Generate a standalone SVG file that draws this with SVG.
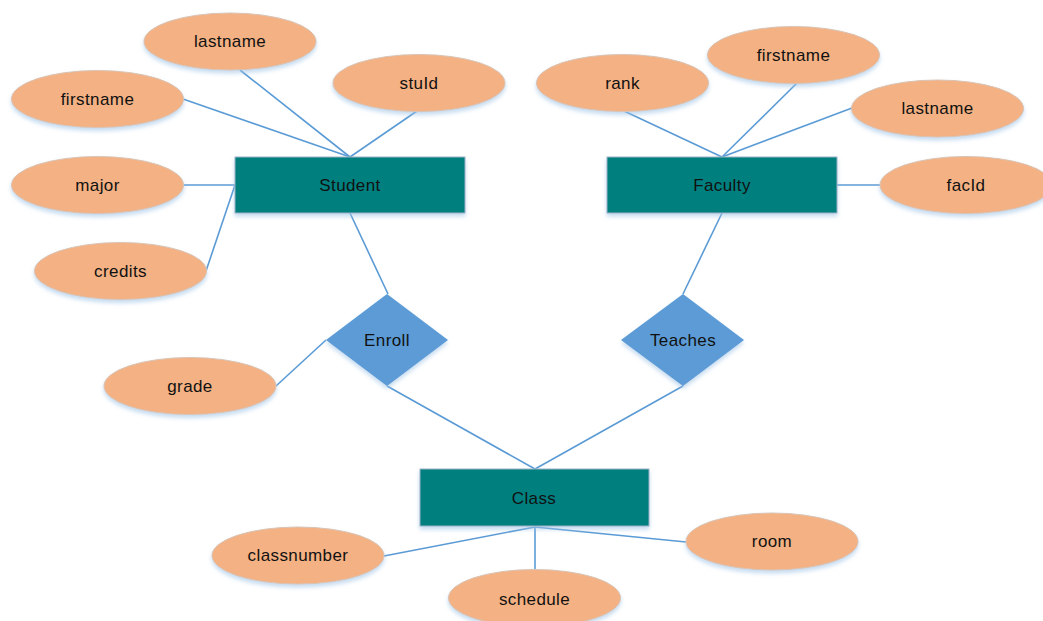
<svg xmlns="http://www.w3.org/2000/svg" width="1043" height="621" viewBox="0 0 1043 621">
<style>
.attr{fill:#F4B183;stroke:#d9c3b3;stroke-width:1;filter:url(#sh)}
.ent{fill:#007F7F;stroke:#9fb3c8;stroke-width:1;filter:url(#sh)}
.rel{fill:#5B9BD5;filter:url(#sh)}
.lbl{font-family:"Liberation Sans",Arial,sans-serif;font-size:17px;fill:#111;text-anchor:middle;dominant-baseline:central;letter-spacing:0.4px}
#connectors line{stroke:#5B9BD5;stroke-width:1.6}
</style>
<defs>
<filter id="sh" x="-20%" y="-20%" width="140%" height="150%">
<feDropShadow dx="0" dy="3" stdDeviation="2" flood-color="#9dc3e6" flood-opacity="0.6"/>
</filter>
</defs>
<rect width="1043" height="621" fill="#fff"/>
<g id="connectors">
<line x1="240" y1="70" x2="350" y2="157"/>
<line x1="183" y1="99" x2="350" y2="157"/>
<line x1="417" y1="111" x2="350" y2="157"/>
<line x1="183" y1="185" x2="235" y2="185"/>
<line x1="206" y1="271" x2="235" y2="185"/>
<line x1="350" y1="213" x2="388" y2="294"/>
<line x1="624" y1="111" x2="722" y2="157"/>
<line x1="797" y1="83" x2="722" y2="157"/>
<line x1="852" y1="108" x2="722" y2="157"/>
<line x1="837" y1="185" x2="880" y2="185"/>
<line x1="722" y1="213" x2="683" y2="294"/>
<line x1="276" y1="386" x2="326" y2="340"/>
<line x1="387" y1="386" x2="535" y2="469"/>
<line x1="683" y1="386" x2="535" y2="469"/>
<line x1="535" y1="527" x2="384" y2="556"/>
<line x1="535" y1="527" x2="535" y2="569"/>
<line x1="535" y1="527" x2="686" y2="542"/>
</g>
<g id="student"><rect class="ent" x="235" y="157" width="230" height="56"/><text class="lbl" x="350" y="185">Student</text></g>
<g id="faculty"><rect class="ent" x="607" y="157" width="230" height="56"/><text class="lbl" x="722" y="185">Faculty</text></g>
<g id="class"><rect class="ent" x="420" y="469" width="229" height="57"/><text class="lbl" x="534" y="498">Class</text></g>
<g id="enroll"><polygon class="rel" points="387,294 448,340 387,386 326,340"/><text class="lbl" x="387" y="340">Enroll</text></g>
<g id="teaches"><polygon class="rel" points="683,294 744,340 683,386 621,340"/><text class="lbl" x="683" y="340">Teaches</text></g>
<g id="s_lastname"><ellipse class="attr" cx="230" cy="41.5" rx="86" ry="28.5"/><text class="lbl" x="230" y="41.5">lastname</text></g>
<g id="s_stuid"><ellipse class="attr" cx="419" cy="83" rx="86" ry="28.5"/><text class="lbl" x="419" y="83">stuId</text></g>
<g id="s_firstname"><ellipse class="attr" cx="97.5" cy="99" rx="86" ry="28.5"/><text class="lbl" x="97.5" y="99">firstname</text></g>
<g id="s_major"><ellipse class="attr" cx="97.5" cy="185" rx="86" ry="28.5"/><text class="lbl" x="97.5" y="185">major</text></g>
<g id="s_credits"><ellipse class="attr" cx="120.5" cy="271" rx="86" ry="28.5"/><text class="lbl" x="120.5" y="271">credits</text></g>
<g id="f_rank"><ellipse class="attr" cx="622.5" cy="83" rx="86" ry="28.5"/><text class="lbl" x="622.5" y="83">rank</text></g>
<g id="f_firstname"><ellipse class="attr" cx="793.5" cy="55" rx="86" ry="28.5"/><text class="lbl" x="793.5" y="55">firstname</text></g>
<g id="f_lastname"><ellipse class="attr" cx="937.5" cy="108.5" rx="86" ry="28.5"/><text class="lbl" x="937.5" y="108.5">lastname</text></g>
<g id="f_facid"><ellipse class="attr" cx="966" cy="185" rx="86" ry="28.5"/><text class="lbl" x="966" y="185">facId</text></g>
<g id="e_grade"><ellipse class="attr" cx="190" cy="386" rx="86" ry="28.5"/><text class="lbl" x="190" y="386">grade</text></g>
<g id="c_classnumber"><ellipse class="attr" cx="298" cy="555.5" rx="86" ry="28.5"/><text class="lbl" x="298" y="555.5">classnumber</text></g>
<g id="c_schedule"><ellipse class="attr" cx="534.5" cy="598" rx="86" ry="28.5"/><text class="lbl" x="534.5" y="599">schedule</text></g>
<g id="c_room"><ellipse class="attr" cx="772" cy="541.5" rx="86" ry="28.5"/><text class="lbl" x="772" y="541.5">room</text></g>
</svg>
